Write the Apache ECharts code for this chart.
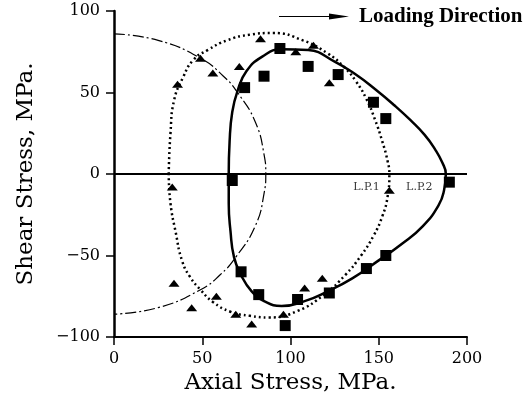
<!DOCTYPE html>
<html>
<head>
<meta charset="utf-8">
<script src="https://cdn.jsdelivr.net/npm/echarts@6/dist/echarts.min.js"></script>
<style>
  html, body { margin: 0; padding: 0; background: #fff; }
  #chart { width: 526px; height: 400px; }
</style>
</head>
<body>
<div id="chart"></div>
<script>
const xTicks = [0, 50, 100, 150, 200];
const yTicks = [-100, -50, 0, 50, 100];

// measured points, loading path 2 (squares)
const lp2Points = [
  [74, 53], [85, 60], [94, 77], [110, 66], [127, 61], [147, 44], [154, 34],
  [190, -5], [67, -4], [72, -60], [82, -74], [104, -77], [122, -73],
  [143, -58], [154, -50], [97, -93]
];
// measured points, loading path 1 (triangles)
const lp1Points = [
  [36, 55], [49, 71], [56, 62], [71, 66], [83, 83], [103, 75], [113, 79],
  [122, 56], [156, -10], [33, -8], [34, -67], [44, -82], [58, -75],
  [69, -86], [78, -92], [96, -86], [108, -70], [118, -64]
];
// solid curve (after L.P.2)
const lp2Curve = [
  [65, 0], [65.5, 20], [67, 38], [70, 51], [75, 63], [84, 72], [95, 76.5],
  [110, 76], [125, 69], [137, 61], [148, 52], [159, 42], [168, 33],
  [176, 24], [182, 15], [186, 7], [188, 0], [187, -10], [184, -19],
  [175, -32], [163, -43], [150, -53], [135, -64], [121, -72], [108, -78],
  [95, -81], [85, -78], [78, -72], [72, -62], [68, -51], [66, -35],
  [65, -18], [65, 0]
];
// dotted curve (after L.P.1)
const lp1Curve = [
  [31, 0], [32, 25], [34, 45], [39, 59], [45, 70], [53, 76], [64, 82],
  [77, 85.5], [90, 86.5], [107, 82], [121, 74], [130, 66], [137, 57],
  [143, 46], [148, 33], [152, 20], [155, 8], [156, 0], [155, -14],
  [152, -26], [147, -38], [140, -50], [131, -62], [119, -74], [104, -84],
  [88, -88], [77, -87], [66, -84.5], [56, -78.5], [49, -71], [43, -63],
  [38.5, -53], [35, -36], [32, -18], [31, 0]
];
// dash-dot curve (initial surface)
const initialCurve = [
  [0, 86], [25, 82], [49, 71], [62, 60], [70, 50], [80, 32], [85, 12],
  [86, 0], [85, -12], [80, -32], [69, -51], [60, -62], [49, -71],
  [25, -82], [0, -86]
];
const pathLabels = [
  { name: 'L.P.1', value: [143, -8] },
  { name: 'L.P.2', value: [173, -8] }
];

const serif = 'DejaVu Serif';
const chart = echarts.init(document.getElementById('chart'));

function axisLabelText(v) {
  return String(v).replace('-', '\u2212');
}

chart.setOption({
  animation: false,
  backgroundColor: '#fff',
  grid: { left: 114, right: 59, top: 11, bottom: 63 },
  legend: {
    left: 279,
    top: 6,
    padding: 0,
    selectedMode: false,
    itemWidth: 70,
    itemHeight: 6,
    icon: 'path://M0,2.4 L52,2.4 L52,3.6 L0,3.6 Z M50,0 L70,3 L50,6 Z',
    textStyle: {
      fontFamily: 'Liberation Serif',
      fontWeight: 'bold',
      fontSize: 21,
      color: '#000',
      padding: [0, 0, 0, 5]
    },
    data: ['Loading Direction']
  },
  xAxis: {
    type: 'value',
    min: xTicks[0],
    max: xTicks[xTicks.length - 1],
    interval: xTicks[1] - xTicks[0],
    name: 'Axial Stress, MPa.',
    nameLocation: 'middle',
    nameGap: 31,
    nameTextStyle: { fontFamily: serif, fontSize: 23, color: '#000' },
    axisLine: { onZero: false, lineStyle: { color: '#000', width: 2 } },
    axisTick: { length: 8, lineStyle: { color: '#000', width: 1.5 } },
    axisLabel: { fontFamily: serif, fontSize: 16, color: '#000', margin: 14, formatter: axisLabelText },
    splitLine: { show: false }
  },
  yAxis: {
    type: 'value',
    min: yTicks[0],
    max: yTicks[yTicks.length - 1],
    interval: yTicks[1] - yTicks[0],
    name: 'Shear Stress, MPa.',
    nameLocation: 'middle',
    nameGap: 76,
    nameTextStyle: { fontFamily: serif, fontSize: 23, color: '#000' },
    axisLine: { onZero: false, lineStyle: { color: '#000', width: 2.5 } },
    axisTick: { length: 8, lineStyle: { color: '#000', width: 1.5 } },
    axisLabel: { fontFamily: serif, fontSize: 16, color: '#000', margin: 14, formatter: axisLabelText },
    splitLine: { show: false }
  },
  series: [
    {
      name: 'Initial',
      type: 'line',
      smooth: true,
      showSymbol: false,
      data: initialCurve,
      lineStyle: { color: '#000', width: 1.2, type: [11, 3, 2, 3] }
    },
    {
      name: 'LP1 curve',
      type: 'line',
      smooth: true,
      showSymbol: false,
      data: lp1Curve,
      lineStyle: { color: '#000', width: 2.5, type: [2, 3] }
    },
    {
      name: 'LP2 curve',
      type: 'line',
      smooth: true,
      showSymbol: false,
      data: lp2Curve,
      lineStyle: { color: '#000', width: 2.5 },
      markLine: {
        silent: true,
        symbol: ['none', 'none'],
        label: { show: false },
        lineStyle: { color: '#000', width: 2, type: 'solid' },
        data: [{ yAxis: 0 }]
      }
    },
    {
      name: 'LP1 data',
      type: 'scatter',
      symbol: 'triangle',
      symbolSize: [11, 7],
      itemStyle: { color: '#000', opacity: 1 },
      data: lp1Points
    },
    {
      name: 'LP2 data',
      type: 'scatter',
      symbol: 'rect',
      symbolSize: 11,
      itemStyle: { color: '#000', opacity: 1 },
      data: lp2Points
    },
    {
      name: 'labels',
      type: 'scatter',
      symbolSize: 1,
      itemStyle: { color: 'rgba(0,0,0,0)' },
      label: {
        show: true,
        position: 'inside',
        formatter: '{b}',
        fontFamily: serif,
        fontSize: 11,
        color: '#000'
      },
      data: pathLabels
    },
    {
      name: 'Loading Direction',
      type: 'scatter',
      itemStyle: { color: '#000', opacity: 1 },
      data: []
    }
  ]
});
</script>
</body>
</html>
